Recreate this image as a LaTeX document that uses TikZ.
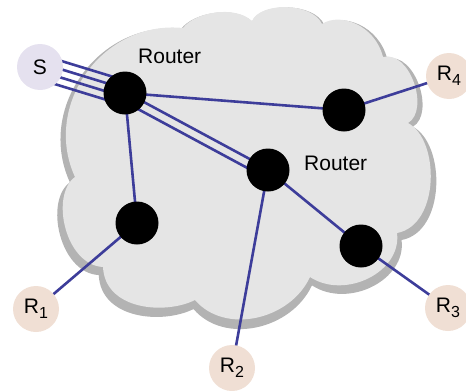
\documentclass[tikz,border=0pt]{standalone}
\usepackage{fontspec}
\setmainfont{Liberation Sans}
\usetikzlibrary{calc}

\definecolor{cloudfill}{HTML}{E5E5E5}
\definecolor{cloudshade}{HTML}{B3B3B3}
\definecolor{linkblue}{HTML}{3D3D9A}
\definecolor{srcfill}{HTML}{E5E1EF}
\definecolor{rcvfill}{HTML}{F0DFD4}

\pgfdeclarelayer{cloudlayer}
\pgfdeclarelayer{linklayer}
\pgfsetlayers{cloudlayer,linklayer,main}

\newcommand\lowsub[1]{\raisebox{-5pt}{\fontsize{16}{16}\selectfont #1}}

\tikzset{
  cloud path/.style={insert path={
    (75,177) .. controls (42,105) and (103,20) .. (183,28)
    .. controls (195,12) and (235,5) .. (252,21)
    .. controls (260,2) and (312,2) .. (322,24)
    .. controls (340,12) and (375,25) .. (383,57)
    .. controls (410,50) and (430,110) .. (408,123)
    .. controls (440,140) and (440,225) .. (397,233)
    .. controls (402,272) and (345,300) .. (310,277)
    .. controls (290,320) and (225,335) .. (195,300)
    .. controls (165,315) and (105,310) .. (103,267)
    .. controls (65,265) and (50,195) .. (75,177) -- cycle}},
  link/.style={draw=linkblue, line width=2.6pt},
  hub/.style={circle, fill=black, minimum size=43pt, inner sep=0pt},
  src/.style={circle, fill=srcfill, minimum size=46pt, inner sep=0pt},
  rcv/.style={circle, fill=rcvfill, minimum size=46pt, inner sep=0pt},
  caption/.style={anchor=base west, inner sep=0pt}
}

\begin{document}
\begin{tikzpicture}[x=1pt, y=-1pt, font=\fontsize{21}{25}\selectfont]
\useasboundingbox (0,0) rectangle (466,391);

% network cloud with its drop shadow
\begin{pgfonlayer}{cloudlayer}
  \begin{scope}[shift={(245,170)}, scale=1.03, shift={(-245,-165)}]
    \fill[cloudshade, cloud path];
  \end{scope}
  \fill[cloudfill, cloud path];
\end{pgfonlayer}

% source, routers and receivers
\node[src] (S) at (40,67) {S};
\node[hub] (r1) at (125,93) {};
\node[hub] (r2) at (268,170) {};
\node[hub] (ne) at (344,110) {};
\node[hub] (sw) at (137,223) {};
\node[hub] (se) at (361,246) {};
\node[rcv] (R1) at (36,309) {R\lowsub{1}};
\node[rcv] (R2) at (232,368) {R\lowsub{2}};
\node[rcv] (R3) at (448,308) {R\lowsub{3}};
\node[rcv] (R4) at (449,76) {R\lowsub{4}};

\node[caption] (l1) at (138,63) {Router};
\node[caption] (l2) at (304,170) {Router};

% links
\begin{pgfonlayer}{linklayer}
  \foreach \off in {-12,-4,4,12}
    \draw[link] ($(S.center)!\off pt!90:(r1.center)$) -- ($(r1.center)!\off pt!-90:(S.center)$);
  \foreach \off in {1,-8}
    \draw[link] ($(r1.center)!\off pt!90:(r2.center)$) -- ($(r2.center)!\off pt!-90:(r1.center)$);
  \draw[link] (r1.center) -- (ne.center);
  \draw[link] (r1.center) -- (sw.center);
  \draw[link] (r2.center) -- (se.center);
  \draw[link] (r2.center) -- (R2.center);
  \draw[link] (sw.center) -- (R1.center);
  \draw[link] (se.center) -- (R3.center);
  \draw[link] (ne.center) -- (R4.center);
\end{pgfonlayer}
\end{tikzpicture}
\end{document}
